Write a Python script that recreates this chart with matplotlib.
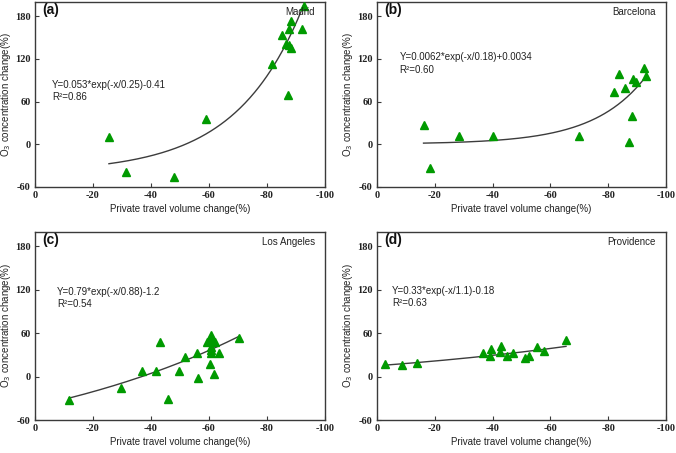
import numpy as np
import matplotlib
matplotlib.use("Agg")
import matplotlib.pyplot as plt

plt.rcParams['axes.unicode_minus'] = False

# ---------------- data ----------------
cities = ["Madrid", "Barcelona", "Los Angeles", "Providence"]
panel_labels = ["(a)", "(b)", "(c)", "(d)"]

madrid_x = [-25.5, -31.5, -48.0, -59.1, -81.7, -85.2, -86.6, -87.5, -88.3, -88.4, -87.7, -87.3, -92.1, -92.7]
madrid_y = [10.2, -38.6, -46.5, 35.8, 112.6, 153.0, 140.5, 139.0, 136.0, 174.0, 162.0, 69.3, 162.0, 194.0]

barcelona_x = [-16.1, -18.3, -28.4, -40.3, -70.0, -82.1, -83.8, -85.7, -87.2, -88.1, -88.6, -89.7, -92.5, -93.1]
barcelona_y = [26.6, -32.7, 11.2, 11.2, 11.2, 73.8, 99.0, 79.0, 3.7, 39.7, 91.6, 87.0, 107.0, 96.3]

la_x = [-11.8, -29.5, -37.0, -41.8, -43.2, -46.0, -49.7, -51.6, -55.7, -56.3, -59.3, -60.3,
        -60.6, -60.8, -60.6, -60.8, -60.8, -62.0, -61.8, -63.4, -70.3]
la_y = [-32.3, -16.2, 8.3, 8.3, 48.0, -31.0, 8.3, 27.7, 32.3, -1.8, 48.0, 18.0,
        52.6, 57.2, 41.5, 37.0, 33.0, 48.0, 3.2, 32.3, 53.0]

prov_x = [-2.9, -8.7, -13.7, -36.8, -39.4, -39.2, -42.6, -42.9, -45.0, -47.2, -51.1, -52.7, -55.5, -57.9, -65.4]
prov_y = [17.8, 16.0, 18.7, 32.0, 37.9, 28.8, 33.8, 42.5, 29.2, 32.4, 25.6, 28.3, 41.6, 35.2, 50.7]

xs = [madrid_x, barcelona_x, la_x, prov_x]
ys = [madrid_y, barcelona_y, la_y, prov_y]

equations = ["Y=0.053*exp(-x/0.25)-0.41", "Y=0.0062*exp(-x/0.18)+0.0034",
             "Y=0.79*exp(-x/0.88)-1.2", "Y=0.33*exp(-x/1.1)-0.18"]
r2_labels = ["R\u00b2=0.86", "R\u00b2=0.60", "R\u00b2=0.54", "R\u00b2=0.63"]

# fitted curve as drawn: (a, b, c) for Y = a*exp(-x/b)+c (fractions), and x range (%)
curve_a = [0.042, 0.0054, 0.79, 0.33]
curve_b = [0.23, 0.18, 0.88, 1.1]
curve_c = [-0.40, 0.0034, -1.2, -0.18]
curve_x0 = [-25.5, -16.1, -11.8, -2.9]
curve_x1 = [-92.7, -93.1, -70.3, -65.4]

x_ticks = [0, -20, -40, -60, -80, -100]
y_ticks = [-60, 0, 60, 120, 180]

eq_pos = [(0.059, 0.55, 0.486), (0.078, 0.70, 0.63), (0.075, 0.68, 0.617), (0.053, 0.684, 0.62)]

# ---------------- figure ----------------
W, H = 676, 453
fig = plt.figure(figsize=(W / 100, H / 100), dpi=100)

boxes = [(35, 325, 2, 187), (377, 666, 2, 187), (35, 325, 232, 420), (377, 666, 232, 420)]

sans = "Liberation Sans"
serif = "Liberation Serif"
spine_col = "#3a3a3a"
green = "#009a00"

for i in range(4):
    l, r, t, b = boxes[i]
    ax = fig.add_axes([l / W, 1 - b / H, (r - l) / W, (b - t) / H])
    ax.set_xlim(0, -100)
    ax.set_ylim(-60, 200)
    ax.set_xticks(x_ticks)
    ax.set_yticks(y_ticks)
    ax.set_xticklabels([str(v) for v in x_ticks], fontfamily=serif, fontweight="bold", fontsize=7.5)
    ax.set_yticklabels([str(v) for v in y_ticks], fontfamily=serif, fontweight="bold", fontsize=7.5)
    ax.tick_params(direction="in", length=3, width=0.8, color=spine_col, labelcolor="#222222", pad=3)
    for s in ax.spines.values():
        s.set_color(spine_col)
        s.set_linewidth(1.0)

    # curve
    cx = np.linspace(curve_x0[i], curve_x1[i], 200)
    cy = (curve_a[i] * np.exp(-(cx / 100) / curve_b[i]) + curve_c[i]) * 100
    ax.plot(cx, cy, color="#3c3c3c", lw=1.0, zorder=2)

    ax.plot(xs[i], ys[i], linestyle="none", marker="^", ms=5.5, color=green,
            markeredgecolor=green, zorder=3)

    ax.set_xlabel("Private travel volume change(%)", fontfamily=sans, fontsize=7, labelpad=3, color="#222222")
    ax.set_ylabel("O$_3$ concentration change(%)", fontfamily=sans, fontsize=7, color="#222222")
    ax.yaxis.set_label_coords(-22 / (r - l), 0.5)

    ax.text(0.025, 0.955, panel_labels[i], transform=ax.transAxes, fontfamily=sans,
            fontweight="bold", fontsize=10, va="center", ha="left", color="#111111")
    ax.text(0.965, 0.945, cities[i], transform=ax.transAxes, fontfamily=sans,
            fontsize=7, va="center", ha="right", color="#222222")

    ex, ey1, ey2 = eq_pos[i]
    ax.text(ex, ey1, equations[i], transform=ax.transAxes, fontfamily=sans, fontsize=7,
            va="center", ha="left", color="#222222")
    ax.text(ex, ey2, r2_labels[i], transform=ax.transAxes, fontfamily=sans, fontsize=7,
            va="center", ha="left", color="#222222")

fig.savefig("out.png", dpi=100)
